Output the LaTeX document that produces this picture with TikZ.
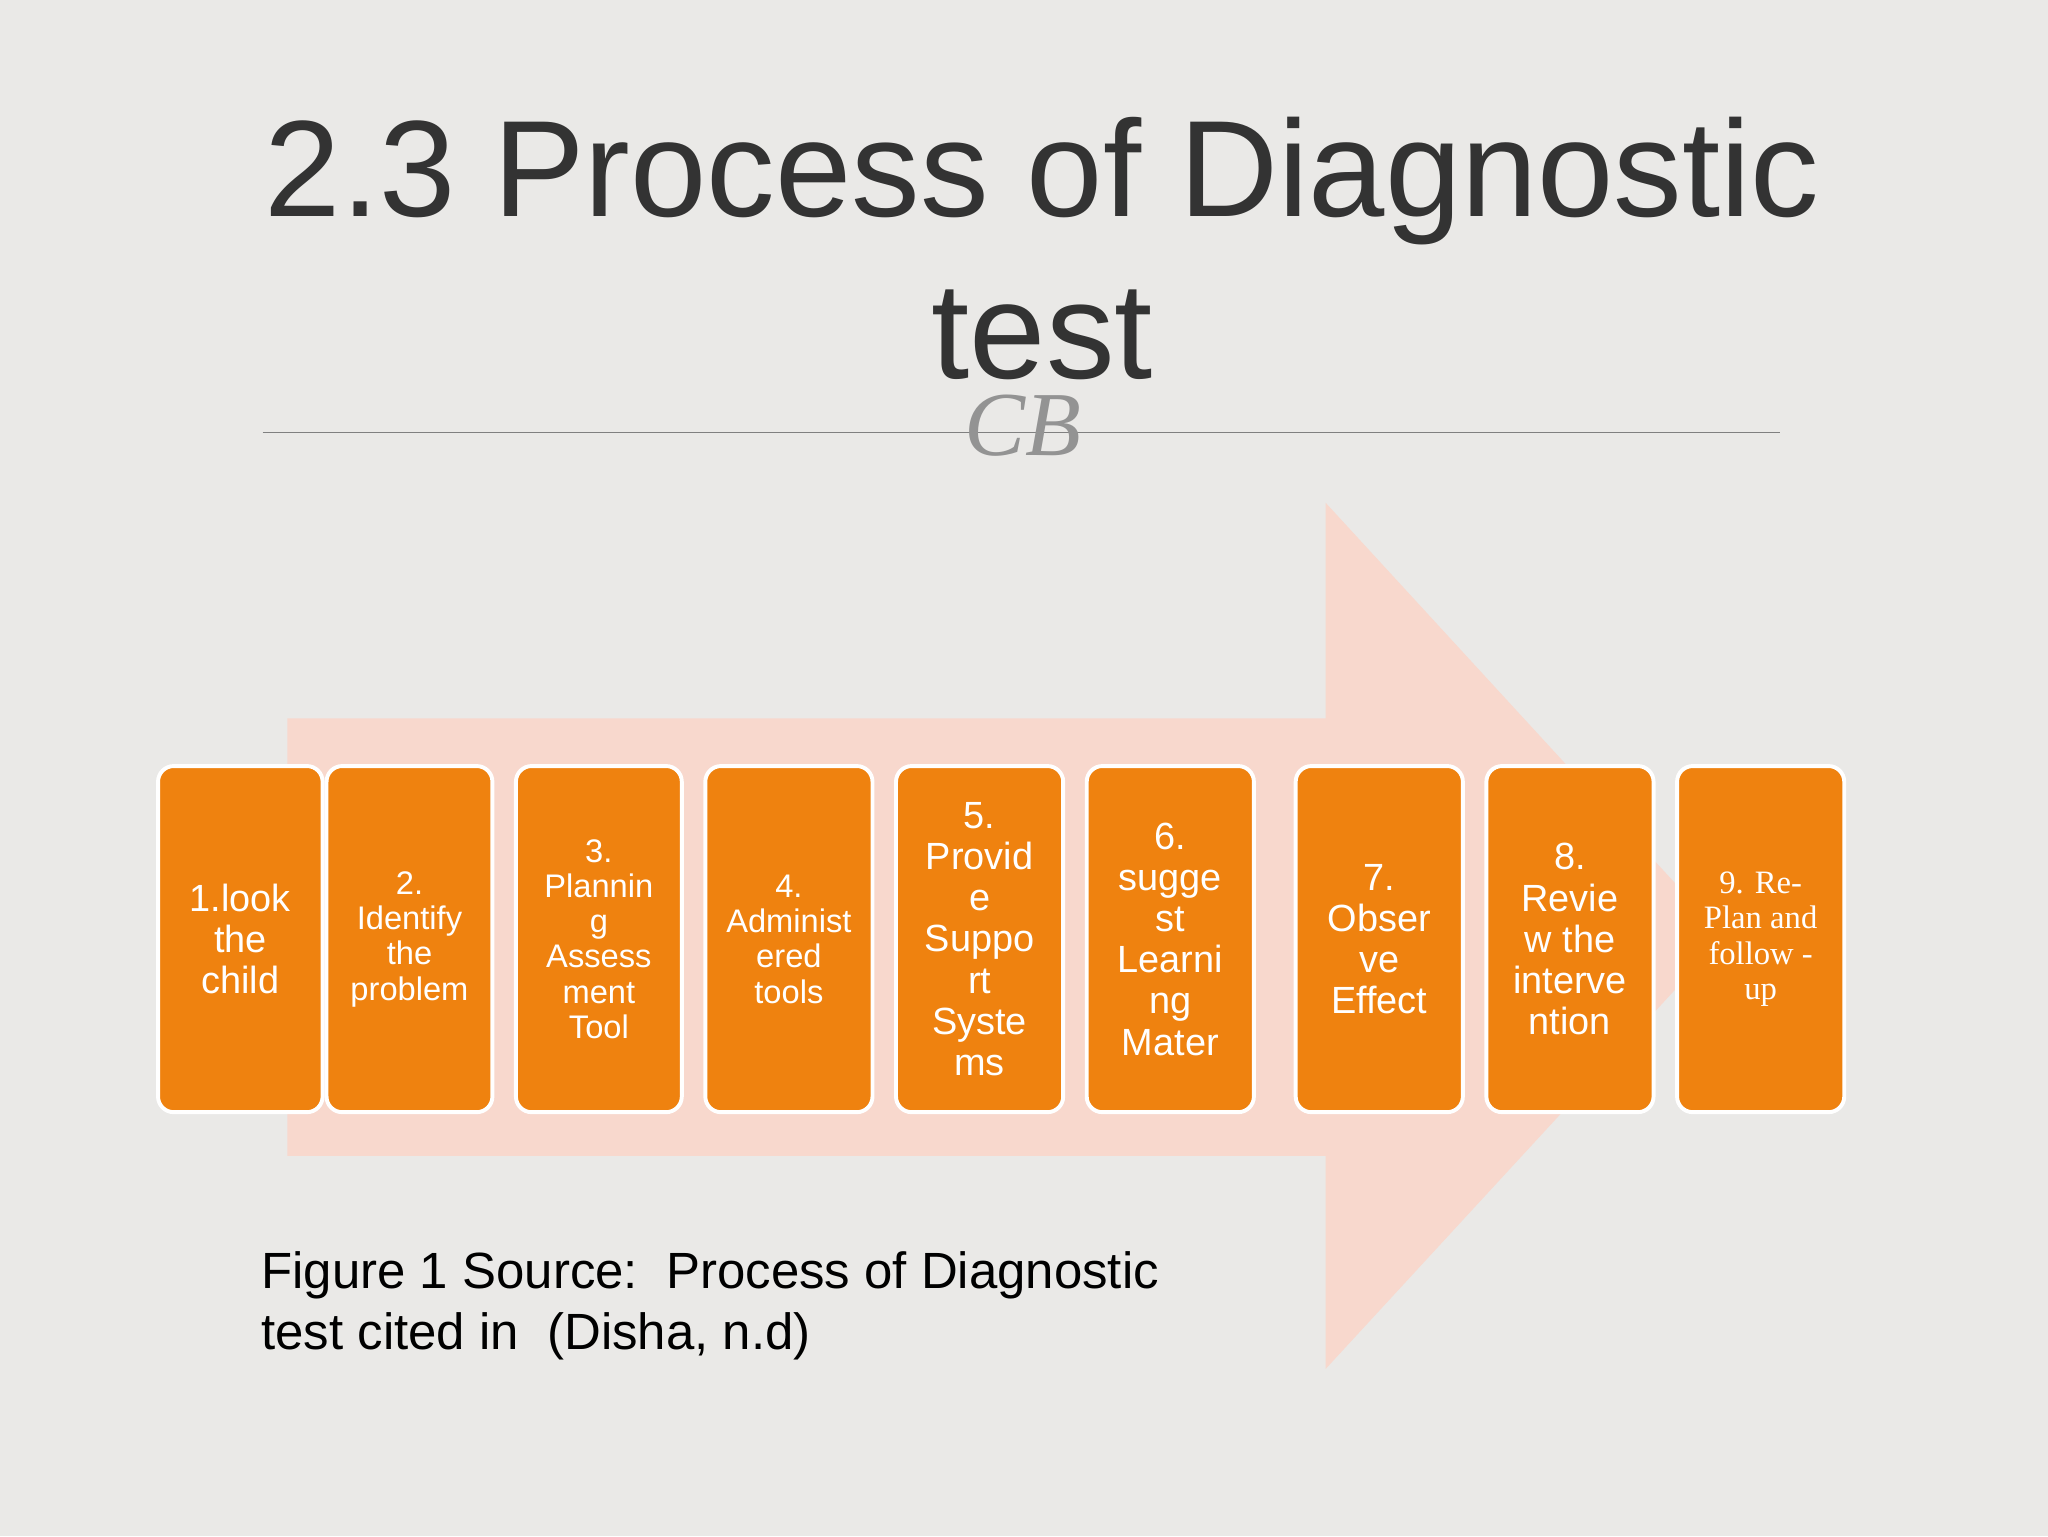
\documentclass[tikz,border=0pt]{standalone}
\usepackage{fontspec}
\setmainfont{Liberation Sans}
\newfontfamily\serifx{Liberation Serif}
\definecolor{bg}{HTML}{EAE9E7}
\definecolor{org}{HTML}{EF820F}
\definecolor{pinkarrow}{HTML}{F8D8CD}
\definecolor{ttl}{HTML}{333333}
\tikzset{stepbox/.style={draw=white,line width=3pt,fill=org,rounded corners=12pt,inner sep=0pt},
 boxlbl/.style={text=white,align=center,inner sep=0pt},
 boxt/.style={boxlbl,font=\fontsize{25}{27}\selectfont},
 boxb/.style={boxlbl,font=\fontsize{29}{31.5}\selectfont}}
\begin{document}
\begin{tikzpicture}[x=1pt,y=-1pt]
\fill[bg] (0,0) rectangle (1568,1176);
\useasboundingbox (0,0) rectangle (1568,1176);
\fill[pinkarrow] (220,550) -- (1015,550) -- (1015,385) -- (1320,717) -- (1015,1048) -- (1015,885) -- (220,885) -- cycle;
\node[text=ttl,font=\fontsize{105}{124}\selectfont,align=center] (title) at (798,190) {2.3 Process of Diagnostic\\test};
\draw[gray,line width=1.2pt] (201,331) coordinate (l1) -- (1363,331) coordinate (l2);
\node[text=gray!85,font=\serifx\itshape\fontsize{70}{70}\selectfont] (orn) at (783,326) {CB};
\def\bx#1#2#3#4#5{\node[stepbox,minimum width=#2-#1,minimum height=265] (#3) at ({(#1+#2)/2},719) {};
 \node[#4] at (#3) {#5};}
\bx{121}{247}{b1}{boxb}{1.look\\the\\child}
\bx{250}{377}{b2}{boxt}{2.\\Identify\\the\\problem}
\bx{395}{522}{b3}{boxt}{3.\\Plannin\\g\\Assess\\ment\\Tool}
\bx{540}{668}{b4}{boxt}{4.\\Administ\\ered\\tools}
\bx{686}{814}{b5}{boxb}{5.\\Provid\\e\\Suppo\\rt\\Syste\\ms}
\bx{832}{960}{b6}{boxb}{6.\\sugge\\st\\Learni\\ng\\Mater}
\bx{992}{1120}{b7}{boxb}{7.\\Obser\\ve\\Effect}
\bx{1138}{1266}{b8}{boxb}{8.\\Revie\\w the\\interve\\ntion}
\bx{1284}{1412}{b9}{boxlbl,font=\serifx\fontsize{25}{27}\selectfont}{9. Re-\\Plan and\\follow -\\up}
\node[anchor=north west,align=left,font=\fontsize{39}{47}\selectfont,inner sep=0pt] (cap) at (200,958) {Figure 1 Source:\ \ Process of Diagnostic\\test cited in\ \ (Disha, n.d)};
\end{tikzpicture}
\end{document}
